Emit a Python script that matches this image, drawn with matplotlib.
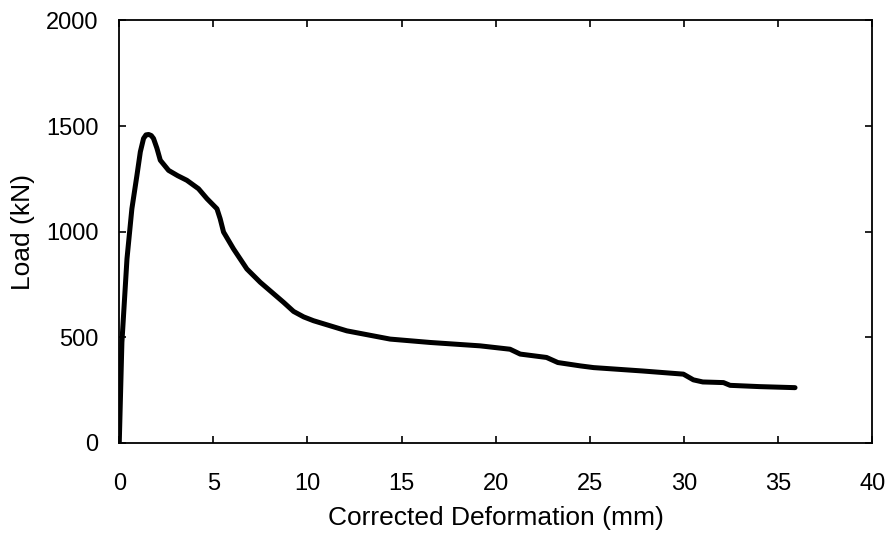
import matplotlib
matplotlib.use("Agg")
import matplotlib.pyplot as plt

# Load-deformation curve
deformation_mm = [0.0, 0.14, 0.41, 0.67, 0.94, 1.12, 1.29, 1.42, 1.56, 1.70, 1.82, 2.0,
                  2.18, 2.62, 3.1, 3.59, 4.21, 4.66, 5.19, 5.36, 5.54, 6.07, 6.78,
                  7.49, 8.73, 9.26, 9.8, 10.32, 12.09, 14.39, 16.52, 19.17, 20.76,
                  21.3, 22.7, 23.3, 24.5, 25.2, 27.8, 29.97, 30.5, 31.0, 32.1,
                  32.45, 34.0, 35.9]
load_kN = [0, 475, 871, 1108, 1267, 1378, 1441, 1458, 1460, 1455, 1441, 1395,
           1338, 1290, 1265, 1243, 1203, 1156, 1108, 1061, 998, 918, 823,
           760, 665, 622, 596, 578, 530, 491, 475, 459, 443,
           420, 404, 380, 364, 356, 340, 325, 298, 288, 285,
           272, 266, 261]

x_ticks = [0, 5, 10, 15, 20, 25, 30, 35, 40]
y_ticks = [0, 500, 1000, 1500, 2000]

plt.rcParams["font.family"] = ["Liberation Sans", "DejaVu Sans"]

fig = plt.figure(figsize=(8.9, 5.38), dpi=100)
ax = fig.add_axes([0.134, 0.177, 0.846, 0.785])

ax.plot(deformation_mm, load_kN, color="black", linewidth=3.6,
        solid_joinstyle="round", solid_capstyle="round")

ax.set_xlim(0, 40)
ax.set_ylim(0, 2000)
ax.set_xticks(x_ticks)
ax.set_yticks(y_ticks)
ax.tick_params(direction="in", top=True, right=True, length=5, width=1.2,
               labelsize=17)
ax.tick_params(axis="x", pad=22)
ax.tick_params(axis="y", pad=15)
for s in ax.spines.values():
    s.set_linewidth(1.3)

ax.set_xlabel("Corrected Deformation (mm)", fontsize=19, labelpad=8)
ax.set_ylabel("Load (kN)", fontsize=19, labelpad=8)

fig.savefig("out.png", dpi=100)
